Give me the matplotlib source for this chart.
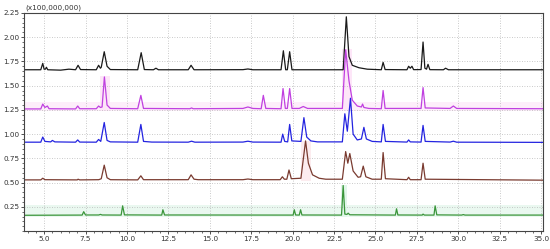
import numpy as np
import matplotlib
matplotlib.use('Agg')
import matplotlib.pyplot as plt
from matplotlib.ticker import MultipleLocator, FixedLocator

# retention time (min) / intensity (x100,000,000) points
t_black = [3.8, 4.8, 4.92, 5.0, 5.08, 5.14, 5.22, 6.0, 6.5, 6.9, 7.05, 7.2, 8.15, 8.29, 8.4, 8.45, 8.63, 8.8, 9.0,
           10.65, 10.86, 11.05, 11.6, 11.75, 11.9, 13.7, 13.87, 14.05, 17.0, 17.3, 17.6, 19.3, 19.44, 19.58, 19.68,
           19.82, 19.96, 23.05, 23.24, 23.4, 23.6, 24.0, 24.5, 25.35, 25.46, 25.58, 26.9, 27.0, 27.1, 27.2, 27.3,
           27.75, 27.87, 27.98, 28.08, 28.17, 28.28, 29.1, 29.23, 29.4, 35.1]
v_black = [1.664, 1.664, 1.73, 1.67, 1.67, 1.69, 1.664, 1.66, 1.67, 1.664, 1.71, 1.666, 1.664, 1.71, 1.68, 1.69, 1.85,
           1.70, 1.666, 1.664, 1.84, 1.666, 1.664, 1.68, 1.664, 1.664, 1.71, 1.664, 1.665, 1.672, 1.664, 1.664, 1.86,
           1.664, 1.664, 1.85, 1.664, 1.664, 2.21, 1.80, 1.71, 1.685, 1.67, 1.664, 1.74, 1.666, 1.664, 1.70, 1.68,
           1.70, 1.665, 1.666, 1.95, 1.68, 1.67, 1.72, 1.665, 1.664, 1.68, 1.664, 1.664]

t_magenta = [3.8, 4.8, 4.92, 5.05, 5.2, 5.3, 6.9, 7.03, 7.15, 8.15, 8.29, 8.4, 8.5, 8.64, 8.8, 9.0, 10.65, 10.84, 11.0,
             13.8, 13.9, 14.0, 17.0, 17.3, 17.6, 18.1, 18.23, 18.38, 19.3, 19.42, 19.56, 19.68, 19.82, 19.96, 20.4,
             20.64, 20.9, 23.0, 23.2, 23.4, 23.6, 23.9, 24.15, 24.22, 24.3, 24.6, 25.35, 25.46, 25.58, 27.75, 27.87,
             28.0, 29.5, 29.7, 29.9, 35.1]
v_magenta = [1.26, 1.26, 1.31, 1.275, 1.29, 1.262, 1.26, 1.29, 1.262, 1.262, 1.29, 1.275, 1.28, 1.59, 1.30, 1.265,
             1.262, 1.40, 1.265, 1.262, 1.27, 1.262, 1.265, 1.28, 1.265, 1.262, 1.40, 1.265, 1.262, 1.47, 1.265, 1.265,
             1.47, 1.265, 1.265, 1.285, 1.265, 1.265, 1.87, 1.55, 1.35, 1.29, 1.28, 1.31, 1.275, 1.265, 1.262, 1.45,
             1.265, 1.265, 1.48, 1.27, 1.265, 1.29, 1.265, 1.262]

t_blue = [3.8, 4.8, 4.92, 5.05, 5.4, 5.5, 5.65, 6.9, 7.03, 7.15, 8.15, 8.29, 8.42, 8.63, 8.8, 9.0, 10.65, 10.84, 11.0,
          11.5, 13.7, 13.9, 14.1, 17.0, 17.3, 17.6, 19.3, 19.4, 19.52, 19.7, 19.82, 19.95, 20.5, 20.68, 20.85, 21.1,
          21.5, 23.0, 23.15, 23.3, 23.49, 23.65, 23.9, 24.15, 24.3, 24.45, 24.8, 25.35, 25.46, 25.6, 26.9, 27.0,
          27.1, 27.75, 27.87, 28.0, 29.5, 29.7, 29.9, 35.1]
v_blue = [0.917, 0.917, 0.97, 0.925, 0.92, 0.935, 0.92, 0.917, 0.94, 0.918, 0.917, 0.945, 0.925, 1.12, 0.935, 0.92,
          0.917, 1.10, 0.925, 0.918, 0.917, 0.927, 0.917, 0.918, 0.927, 0.918, 0.917, 1.00, 0.925, 0.92, 1.10, 0.93,
          0.925, 1.17, 0.97, 0.93, 0.92, 0.92, 1.21, 1.03, 1.37, 1.00, 0.94, 0.95, 1.07, 0.95, 0.925, 0.92, 1.10,
          0.925, 0.918, 0.94, 0.92, 0.918, 1.09, 0.925, 0.918, 0.927, 0.917, 0.915]

t_brown = [3.8, 4.8, 4.92, 5.05, 7.0, 7.05, 7.15, 8.3, 8.45, 8.63, 8.8, 9.0, 10.65, 10.84, 11.0, 13.7, 13.87, 14.05,
           14.3, 17.0, 17.3, 17.6, 19.25, 19.38, 19.5, 19.65, 19.78, 19.92, 20.5, 20.78, 20.95, 21.2, 21.6, 22.0,
           23.0, 23.2, 23.33, 23.45, 23.65, 23.95, 24.1, 24.26, 24.42, 24.8, 25.35, 25.46, 25.6, 26.9, 27.0, 27.1,
           27.75, 27.87, 28.0, 35.1]
v_brown = [0.528, 0.528, 0.545, 0.53, 0.528, 0.535, 0.528, 0.53, 0.54, 0.68, 0.55, 0.53, 0.528, 0.57, 0.53, 0.53,
           0.58, 0.535, 0.53, 0.53, 0.537, 0.53, 0.53, 0.56, 0.535, 0.535, 0.63, 0.54, 0.545, 0.93, 0.70, 0.58,
           0.545, 0.535, 0.535, 0.82, 0.70, 0.80, 0.62, 0.555, 0.56, 0.67, 0.56, 0.535, 0.535, 0.81, 0.54, 0.53,
           0.555, 0.53, 0.53, 0.70, 0.535, 0.525]

t_green = [3.8, 7.3, 7.39, 7.5, 8.3, 8.4, 8.5, 9.65, 9.74, 9.85, 12.1, 12.17, 12.27, 20.03, 20.1, 20.18, 20.4, 20.48,
           20.56, 22.95, 23.05, 23.15, 23.28, 23.35, 23.45, 26.2, 26.27, 26.35, 27.82, 27.87, 27.95, 28.53, 28.6,
           28.7, 30.2, 30.3, 30.4, 35.1]
v_green = [0.163, 0.165, 0.20, 0.166, 0.166, 0.172, 0.166, 0.165, 0.26, 0.167, 0.165, 0.22, 0.166, 0.165, 0.22,
           0.166, 0.165, 0.22, 0.166, 0.165, 0.47, 0.175, 0.172, 0.185, 0.168, 0.165, 0.23, 0.166, 0.165, 0.175,
           0.165, 0.165, 0.26, 0.167, 0.165, 0.17, 0.165, 0.165]

x_ticks = [5.0, 7.5, 10.0, 12.5, 15.0, 17.5, 20.0, 22.5, 25.0, 27.5, 30.0, 32.5, 35.0]
y_ticks = [0.25, 0.50, 0.75, 1.00, 1.25, 1.50, 1.75, 2.00, 2.25]

fig = plt.figure(figsize=(5.5, 2.49), dpi=100)
ax = fig.add_axes([0.044, 0.072, 0.943, 0.876])

# faint integration highlight bands
ax.axhspan(1.24, 1.33, color='#fdeefa', lw=0, zorder=0)
ax.axhspan(0.15, 0.27, color='#eaf8f0', lw=0, zorder=0)
ax.fill_between([8.35, 8.95], 1.24, 1.60, color='#fde6f8', lw=0, zorder=0)
ax.fill_between([22.95, 23.6], 1.24, 1.88, color='#fde6f8', lw=0, zorder=0)
ax.fill_between([20.5, 21.1], 0.52, 0.93, color='#fcecef', lw=0, zorder=0)
ax.fill_between([22.9, 23.3], 0.15, 0.48, color='#e2f6ea', lw=0, zorder=0)

lw = 0.9
ax.plot(t_black, v_black, color='#1a1a1a', lw=lw)
ax.plot(t_magenta, v_magenta, color='#c040e0', lw=lw)
ax.plot(t_blue, v_blue, color='#2424e0', lw=lw)
ax.plot(t_brown, v_brown, color='#7a3b30', lw=lw)
ax.plot(t_green, v_green, color='#3a953a', lw=lw)

ax.set_xlim(3.8, 35.1)
ax.set_ylim(0, 2.25)
ax.xaxis.set_major_locator(FixedLocator(x_ticks))
ax.yaxis.set_major_locator(FixedLocator(y_ticks))
ax.xaxis.set_minor_locator(MultipleLocator(0.5))
ax.yaxis.set_minor_locator(MultipleLocator(0.05))
ax.set_xticklabels([f'{v:.1f}' for v in x_ticks])
ax.set_yticklabels([f'{v:.2f}' for v in y_ticks])
ax.tick_params(which='major', direction='out', length=2.5, width=0.6, labelsize=5.2, colors='#333333', pad=1)
ax.tick_params(which='minor', direction='out', length=1.3, width=0.5, colors='#333333')
ax.grid(True, which='major', color='#b8b8b8', linestyle=(0, (1, 2)), linewidth=0.6)
for sp in ax.spines.values():
    sp.set_color('#444444')
    sp.set_linewidth(0.8)

fig.text(0.046, 0.955, '(x100,000,000)', fontsize=5.2, color='#333333', ha='left', va='bottom')

fig.savefig('out.png', dpi=100)
